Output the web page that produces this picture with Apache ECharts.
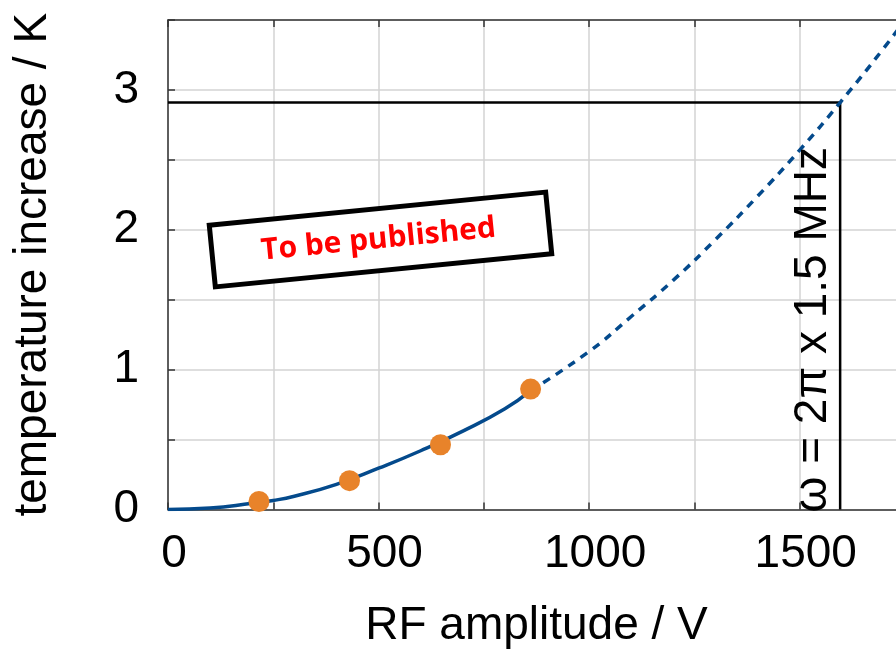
<!DOCTYPE html>
<html>
<head>
<meta charset="utf-8">
<script src="https://cdn.jsdelivr.net/npm/echarts@6/dist/echarts.min.js"></script>
<style>
  html, body { margin: 0; padding: 0; background: #fff; }
  #chart { width: 896px; height: 651px; }
</style>
</head>
<body>
<div id="chart"></div>
<script>
// Measured heating points (RF amplitude in V, temperature increase in K)
const measuredV = [216, 431, 647, 861];
const measuredT = [0.057, 0.206, 0.463, 0.861];

// Fit curve, solid within the measured range
const fitSolidV = [0, 100, 200, 250, 300, 400, 500, 600, 700, 800, 861];
const fitSolidT = [0, 0.01, 0.045, 0.065, 0.095, 0.18, 0.295, 0.42, 0.56, 0.72, 0.85];

// Fit curve, dashed extrapolation
const fitDashV = [861, 1000, 1100, 1200, 1300, 1400, 1500, 1596, 1700, 1750];
const fitDashT = [0.85, 1.13, 1.38, 1.64, 1.93, 2.24, 2.57, 2.91, 3.30, 3.50];

// Operating point
const operatingPoint = [1596, 2.91];

const xTickLabels = ['0', '500', '1000', '1500'];
const yTickLabels = ['0', '1', '2', '3'];

const FONT = '"Liberation Sans", Arial, sans-serif';
const AXIS_COLOR = '#333';
const GRID_COLOR = '#d3d3d3';

const zip = (a, b) => a.map((v, i) => [v, b[i]]);

const chart = echarts.init(document.getElementById('chart'), null, { renderer: 'canvas' });

const option = {
  animation: false,
  backgroundColor: '#fff',
  grid: {
    left: 168, top: 20, right: -9, bottom: 141.5,
    containLabel: false, outerBoundsMode: 'none'
  },
  xAxis: [
    {
      type: 'value', min: 0, max: 1750, interval: 250,
      name: 'RF amplitude / V', nameLocation: 'middle', nameGap: 94,
      nameTextStyle: { fontFamily: FONT, fontSize: 46, color: '#000' },
      axisLine: { show: true, lineStyle: { color: AXIS_COLOR, width: 1.5 } },
      axisTick: { show: true, inside: true, length: 7, lineStyle: { color: AXIS_COLOR, width: 1.5 } },
      axisLabel: {
        fontFamily: FONT, fontSize: 46, color: '#000', margin: 22, padding: [0, 0, 0, 12],
        formatter: v => xTickLabels.includes(String(v)) ? String(v) : ''
      },
      splitLine: { show: true, lineStyle: { color: GRID_COLOR, width: 1.5 } }
    },
    {
      type: 'value', position: 'top', min: 0, max: 1750, interval: 250,
      axisLine: { show: true, onZero: false, lineStyle: { color: AXIS_COLOR, width: 1.5 } },
      axisTick: { show: true, inside: true, length: 7, lineStyle: { color: AXIS_COLOR, width: 1.5 } },
      axisLabel: { show: false },
      splitLine: { show: false }
    }
  ],
  yAxis: {
    type: 'value', min: 0, max: 3.5, interval: 0.5,
    name: 'temperature increase / K', nameLocation: 'middle', nameGap: 112,
    nameTextStyle: { fontFamily: FONT, fontSize: 46, color: '#000' },
    axisLine: { show: true, lineStyle: { color: AXIS_COLOR, width: 1.5 } },
    axisTick: { show: true, inside: true, length: 7, lineStyle: { color: AXIS_COLOR, width: 1.5 } },
    axisLabel: {
      fontFamily: FONT, fontSize: 46, color: '#000', margin: 29,
      formatter: v => yTickLabels.includes(String(v)) ? String(v) : ''
    },
    splitLine: { show: true, lineStyle: { color: GRID_COLOR, width: 1.5 } }
  },
  series: [
    {
      name: 'operating point', type: 'line', symbol: 'none', z: 3,
      data: [[0, operatingPoint[1]], operatingPoint, [operatingPoint[0], 0]],
      lineStyle: { color: '#000', width: 2.5 }
    },
    {
      name: 'fit', type: 'line', smooth: true, symbol: 'none', z: 4,
      data: zip(fitSolidV, fitSolidT),
      lineStyle: { color: '#044a8c', width: 3.5 }
    },
    {
      name: 'fit extrapolated', type: 'line', smooth: true, symbol: 'none', z: 4,
      data: zip(fitDashV, fitDashT),
      lineStyle: { color: '#044a8c', width: 3.5, type: [8, 7] }
    },
    {
      name: 'measured', type: 'scatter', symbol: 'circle', symbolSize: 21, z: 5,
      data: zip(measuredV, measuredT),
      itemStyle: { color: '#e8832a', opacity: 1 }
    }
  ]
};

chart.setOption(option);

// Annotations anchored to the chart's coordinate system
const opPx = chart.convertToPixel({ xAxisIndex: 0, yAxisIndex: 0 }, operatingPoint);
const basePx = chart.convertToPixel({ xAxisIndex: 0, yAxisIndex: 0 }, [operatingPoint[0], 0]);

chart.setOption({
  graphic: [
    {
      type: 'text',
      x: opPx[0] - 4, y: basePx[1] + 3,
      rotation: Math.PI / 2,
      z: 10,
      style: {
        text: 'ω = 2π x 1.5 MHz',
        fontFamily: FONT, fontSize: 46, fill: '#000',
        textAlign: 'left', textVerticalAlign: 'bottom'
      }
    },
    {
      type: 'group',
      x: 380.5, y: 239.5,
      rotation: 0.098,
      z: 10,
      children: [
        {
          type: 'rect',
          shape: { x: -169, y: -31, width: 338, height: 62 },
          style: { fill: '#fff', stroke: '#000', lineWidth: 5 }
        },
        {
          type: 'text',
          x: -2, y: 0,
          style: {
            text: 'To be published',
            fontFamily: '"Open Sans", Lato, sans-serif', fontWeight: 'bold',
            fontSize: 30, fill: '#ff0000',
            textAlign: 'center', textVerticalAlign: 'middle'
          }
        }
      ]
    }
  ]
});
</script>
</body>
</html>
